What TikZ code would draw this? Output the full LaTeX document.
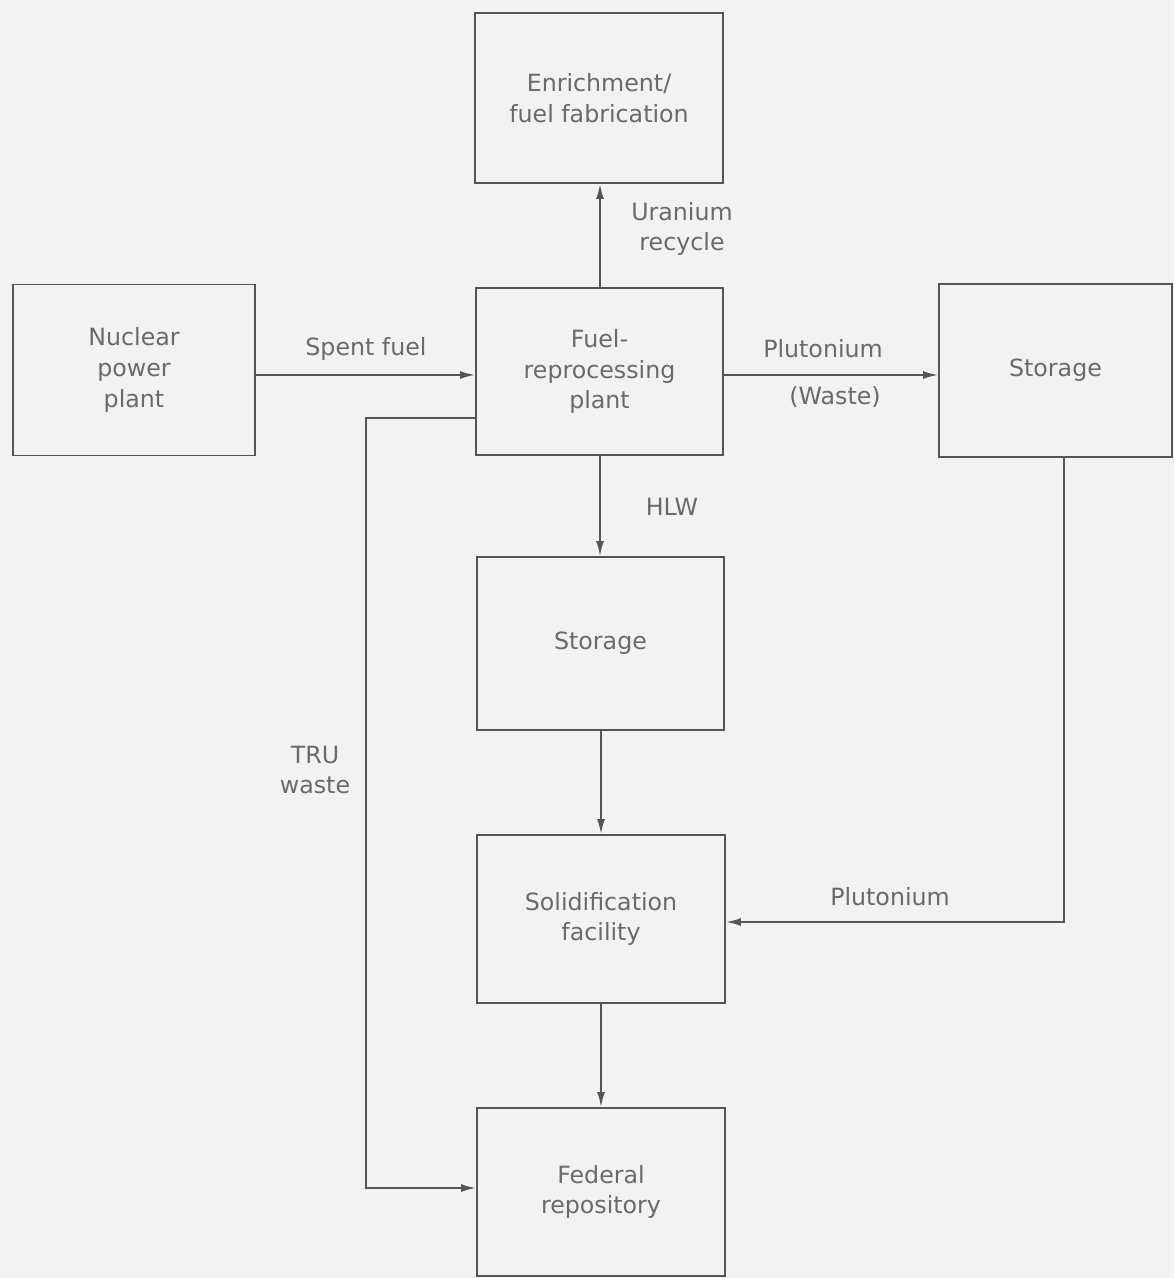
\documentclass[tikz,border=0pt]{standalone}
\usepackage{fontspec}
\setmainfont{DejaVu Sans}
\usetikzlibrary{arrows.meta}
\definecolor{bg}{HTML}{F2F2F2}
\definecolor{ln}{HTML}{555555}
\definecolor{tx}{HTML}{6A6A6A}
\begin{document}
\begin{tikzpicture}[x=0.02cm,y=-0.02cm,
  box/.style={draw=ln,line width=1.1pt,text=tx,align=center,inner sep=0pt,
    font=\fontsize{13.5}{17.5}\selectfont},
  lbl/.style={text=tx,align=center,inner sep=0pt,font=\fontsize{13.5}{17.5}\selectfont},
  arr/.style={draw=ln,line width=1.1pt,-{Latex[length=0.3cm,width=0.16cm]}},
  wire/.style={draw=ln,line width=1.1pt}]
\fill[bg] (0,0) rectangle (1174,1278);
\useasboundingbox (0,0) rectangle (1174,1278);
\node[box,minimum width=248*0.02cm,minimum height=170*0.02cm] (enrich) at (599,98) {Enrichment/\\fuel fabrication};
\node[box,minimum width=242*0.02cm,minimum height=171*0.02cm] (npp) at (134,370) {Nuclear\\power\\plant};
\node[box,minimum width=247*0.02cm,minimum height=167*0.02cm] (repro) at (599.5,371.5) {Fuel-\\reprocessing\\plant};
\node[box,minimum width=233*0.02cm,minimum height=173*0.02cm] (storR) at (1055.5,370.5) {Storage};
\node[box,minimum width=247*0.02cm,minimum height=173*0.02cm] (storM) at (600.5,643.5) {Storage};
\node[box,minimum width=248*0.02cm,minimum height=168*0.02cm] (solid) at (601,919) {Solidification\\facility};
\node[box,minimum width=248*0.02cm,minimum height=168*0.02cm] (fed) at (601,1192) {Federal\\repository};
% labels
\node[lbl] (lur) at (682,229) {Uranium\\recycle};
\node[lbl] (lsf) at (366,349) {Spent fuel};
\node[lbl] (lpu1) at (823,349) {Plutonium};
\node[lbl] (lwa) at (835,397) {(Waste)};
\node[lbl] (lhlw) at (672,507) {HLW};
\node[lbl] (lpu2) at (890,897) {Plutonium};
\node[lbl] (ltru) at (315,770) {TRU\\waste};
% connectors
\coordinate (c1) at (600,375);
\draw[arr] (repro.north -| c1) -- (enrich.south -| c1);
\draw[arr] (npp.east |- c1) -- (repro.west |- c1);
\draw[arr] (repro.east |- c1) -- (storR.west |- c1);
\draw[arr] (repro.south -| c1) -- (storM.north -| c1);
\coordinate (c2) at (601,0);
\draw[arr] (storM.south -| c2) -- (solid.north -| c2);
\draw[arr] (solid.south -| c2) -- (fed.north -| c2);
\coordinate (pr) at (1064,922);
\draw[arr] (storR.south -| pr) -- (pr) -- (solid.east |- pr);
\coordinate (t1) at (366,418);
\coordinate (t2) at (366,1188);
\draw[arr] (repro.west |- t1) -- (t1) -- (t2) -- (fed.west |- t2);
\end{tikzpicture}
\end{document}
